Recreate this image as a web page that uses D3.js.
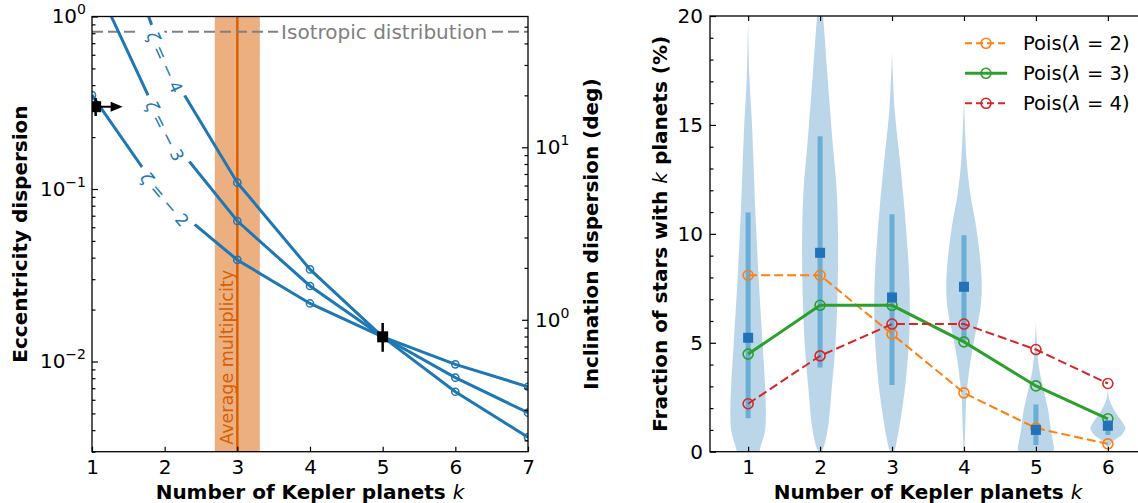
<!DOCTYPE html>
<html><head><meta charset="utf-8">
<script src="https://cdn.jsdelivr.net/npm/d3@7"></script>
<style>
html,body{margin:0;padding:0;background:#fff;}
svg{display:block;font-family:"DejaVu Sans",sans-serif;}
</style></head>
<body><svg id="c" width="1138" height="503"></svg>
<script>
// ---------------- Left panel data ----------------
const kLeft = [1, 2, 3, 4, 5, 6, 7];
const eccZetaM4 = [8.7, 0.543, 0.1088, 0.0342, 0.0139, 0.00668, 0.00364];
const eccZetaM3 = [1.74, 0.217, 0.0652, 0.0274, 0.0139, 0.00806, 0.00505];
const eccZetaM2 = [0.35, 0.0869, 0.0388, 0.0217, 0.0139, 0.00963, 0.00714];
const zetaLabels = ["4", "3", "2"];
const zetaLabelAngles = [66, 63, 50];
const isotropicEcc = 0.816;
const avgMult = 3.0, avgMultLo = 2.69, avgMultHi = 3.31;
const obsK = [1.05, 5];
const obsEcc = [0.30, 0.0139];
const obsEccLo = [0.265, 0.0114];
const obsEccHi = [0.337, 0.0167];
const eccTickExps = [-2, -1, 0];
const incTickExps = [0, 1];

// ---------------- Right panel data ----------------
const kRight = [1, 2, 3, 4, 5, 6];
const pois2 = [8.1, 8.1, 5.4, 2.7, 1.08, 0.36];
const pois3 = [4.48, 6.72, 6.72, 5.04, 3.02, 1.51];
const pois4 = [2.2, 4.4, 5.86, 5.86, 4.69, 3.13];
const medians = [5.23, 9.13, 7.08, 7.57, 1.0, 1.19];
const barLo = [1.53, 3.87, 3.06, 5.1, 0.31, 0.77];
const barHi = [10.98, 14.48, 10.9, 9.94, 2.17, 1.45];
const violin1 = [[19.8,0],[17.2,0.018],[15.1,0.053],[13,0.078],[11.1,0.1],[8,0.146],[5,0.2],[3,0.236],[1.9,0.247],[1,0.236],[0.23,0.174],[0,0.155],[-0.3,0.12]];
const violin2 = [[21.5,0],[20,0.042],[17.2,0.104],[14.2,0.174],[11.9,0.232],[9.6,0.25],[7.3,0.243],[5,0.215],[2.7,0.157],[1.15,0.111],[0.08,0.035],[-0.05,0]];
const violin3 = [[18.35,0],[15.7,0.037],[13.4,0.108],[11.1,0.174],[8,0.239],[5.7,0.243],[3.44,0.197],[1.9,0.139],[0.54,0.069],[0.08,0.035],[-0.05,0]];
const violin4 = [[16.2,0],[13.4,0.037],[11.9,0.086],[10.3,0.17],[8.8,0.226],[7.57,0.247],[6.5,0.226],[5.27,0.15],[4.2,0.093],[2.68,0.037],[1.15,0.018],[0,0.007]];
const violin5 = [[5.9,0],[3.9,0.042],[2.83,0.108],[1.9,0.17],[1,0.208],[0.4,0.24],[0.1,0.25],[-0.1,0.2],[-0.3,0]];
const violin6 = [[2.9,0],[2.37,0.023],[1.76,0.115],[1.3,0.213],[1.07,0.243],[0.77,0.19],[0.54,0.093],[0.31,0.032],[0.2,0]];
const violins = [violin1, violin2, violin3, violin4, violin5, violin6];
const fracTicks = [0, 5, 10, 15, 20];
const legendLabels = ["2", "3", "4"];

// ---------------- setup ----------------
const svg = d3.select("#c");
const BLUE = "#1f77b4", ORANGE = "#ff7f0e", GREEN = "#2ca02c", RED = "#d62728", AVG = "#d95f02";
const FS = 20;

const L = {x0: 92, x1: 528, y0: 16.5, y1: 451.7};
const R = {x0: 710, x1: 1146, y0: 16, y1: 451.7};

const xL = d3.scaleLinear().domain([1, 7]).range([L.x0, L.x1]);
const yL = d3.scaleLog().domain([0.003, 1]).range([L.y1, L.y0]);
const yInc = d3.scaleLog().domain([0.003 * 180 / Math.PI, 180 / Math.PI]).range([L.y1, L.y0]);
const xR = d3.scaleLinear().domain([0.47, 6.53]).range([R.x0, R.x1]);
const yR = d3.scaleLinear().domain([0, 20]).range([R.y1, R.y0]);

const defs = svg.append("defs");
defs.append("clipPath").attr("id", "clipL").append("rect")
  .attr("x", L.x0).attr("y", L.y0).attr("width", L.x1 - L.x0).attr("height", L.y1 - L.y0);
defs.append("clipPath").attr("id", "clipR").append("rect")
  .attr("x", R.x0).attr("y", R.y0).attr("width", R.x1 - R.x0).attr("height", R.y1 - R.y0);

function powLabel(t, e) {
  t.text(null);
  t.append("tspan").text("10");
  t.append("tspan").attr("dy", -9).attr("font-size", 14).text(e < 0 ? "\u2212" + (-e) : String(e));
}
function minorLogTicks(lo, hi) {
  const out = [];
  for (let e = Math.floor(Math.log10(lo)); e <= Math.ceil(Math.log10(hi)); e++) {
    for (let m = 2; m <= 9; m++) { const v = m * Math.pow(10, e); if (v >= lo && v <= hi) out.push(v); }
  }
  return out;
}
function styleAxis(g) {
  g.select(".domain").remove();
  g.selectAll(".tick line").attr("stroke", "#000").attr("stroke-width", 1.2);
  g.selectAll(".tick text").attr("font-size", FS).attr("fill", "#000").attr("font-family", "DejaVu Sans");
}

// ================= LEFT PANEL =================
const gL = svg.append("g");
const plotL = gL.append("g").attr("clip-path", "url(#clipL)");

// average multiplicity band
plotL.append("rect").attr("x", xL(avgMultLo)).attr("width", xL(avgMultHi) - xL(avgMultLo))
  .attr("y", L.y0).attr("height", L.y1 - L.y0).attr("fill", AVG).attr("fill-opacity", 0.5);
plotL.append("line").attr("x1", xL(avgMult)).attr("x2", xL(avgMult)).attr("y1", L.y0).attr("y2", L.y1)
  .attr("stroke", AVG).attr("stroke-width", 2.5);
plotL.append("text").attr("transform", `translate(${xL(avgMult) - 4},${L.y1 - 7}) rotate(-90)`)
  .attr("fill", AVG).attr("font-size", 17.5).text("Average multiplicity");

// isotropic
plotL.append("line").attr("x1", L.x0).attr("x2", L.x1).attr("y1", yL(isotropicEcc)).attr("y2", yL(isotropicEcc))
  .attr("stroke", "#808080").attr("stroke-width", 2).attr("stroke-dasharray", "11,5");
const isoG = plotL.append("g");
const isoT = isoG.append("text").attr("x", xL(5.02)).attr("y", yL(isotropicEcc)).attr("dy", "0.35em")
  .attr("text-anchor", "middle").attr("font-size", FS).attr("fill", "#808080").text("Isotropic distribution");
const ib = isoT.node().getBBox();
isoG.insert("rect", "text").attr("x", ib.x - 3).attr("y", ib.y).attr("width", ib.width + 6).attr("height", ib.height).attr("fill", "#fff");

// zeta curves
const series = [eccZetaM4, eccZetaM3, eccZetaM2];
const lineL = d3.line().x((d, i) => xL(kLeft[i])).y(d => yL(d));
series.forEach(s => {
  plotL.append("path").attr("d", lineL(s)).attr("fill", "none").attr("stroke", BLUE).attr("stroke-width", 3);
  plotL.selectAll(null).data(s).enter().append("circle")
    .attr("cx", (d, i) => xL(kLeft[i])).attr("cy", d => yL(d)).attr("r", 3.6)
    .attr("fill", "none").attr("stroke", BLUE).attr("stroke-width", 1.5);
});
// inline labels at k = 2
series.forEach((s, j) => {
  const g = plotL.append("g").attr("transform", `translate(${xL(kLeft[1])},${yL(s[1])}) rotate(${zetaLabelAngles[j]})`);
  const t = g.append("text").attr("text-anchor", "middle").attr("dy", "0.35em").attr("font-size", 17).attr("fill", BLUE);
  t.append("tspan").attr("font-style", "italic").text("\u03B6");
  t.append("tspan").text(" = \u2212 " + zetaLabels[j]);
  const b = t.node().getBBox();
  g.insert("rect", "text").attr("x", b.x - 6).attr("y", b.y - 2).attr("width", b.width + 12).attr("height", b.height + 4).attr("fill", "#fff");
});

// observed points
obsK.forEach((k, i) => {
  plotL.append("line").attr("x1", xL(k)).attr("x2", xL(k)).attr("y1", yL(obsEccLo[i])).attr("y2", yL(obsEccHi[i]))
    .attr("stroke", "#000").attr("stroke-width", 2.5);
  plotL.append("rect").attr("x", xL(k) - 5.5).attr("y", yL(obsEcc[i]) - 5.5).attr("width", 11).attr("height", 11).attr("fill", "#000");
});
// lower-limit arrow at k=1
{
  const y = yL(obsEcc[0]), x = xL(obsK[0]);
  plotL.append("line").attr("x1", x).attr("x2", x + 17).attr("y1", y).attr("y2", y).attr("stroke", "#000").attr("stroke-width", 2);
  plotL.append("path").attr("d", `M${x + 27},${y} L${x + 15},${y - 5} L${x + 15},${y + 5} Z`).attr("fill", "#000");
}

// axes left panel
const axB = gL.append("g").attr("transform", `translate(0,${L.y1})`)
  .call(d3.axisBottom(xL).tickValues(kLeft).tickSize(-5).tickPadding(8).tickFormat(d3.format("d")));
styleAxis(axB);
const axLmaj = gL.append("g").attr("transform", `translate(${L.x0},0)`)
  .call(d3.axisLeft(yL).tickValues(eccTickExps.map(e => Math.pow(10, e))).tickSize(-6).tickPadding(6));
styleAxis(axLmaj);
axLmaj.selectAll(".tick text").each(function(d, i) { powLabel(d3.select(this), eccTickExps[i]); });
const axLmin = gL.append("g").attr("transform", `translate(${L.x0},0)`)
  .call(d3.axisLeft(yL).tickValues(minorLogTicks(0.003, 1)).tickSize(-3.5).tickFormat(""));
styleAxis(axLmin);
const axRmaj = gL.append("g").attr("transform", `translate(${L.x1},0)`)
  .call(d3.axisRight(yInc).tickValues(incTickExps.map(e => Math.pow(10, e))).tickSize(-6).tickPadding(7));
styleAxis(axRmaj);
axRmaj.selectAll(".tick text").each(function(d, i) { powLabel(d3.select(this), incTickExps[i]); });
const axRmin = gL.append("g").attr("transform", `translate(${L.x1},0)`)
  .call(d3.axisRight(yInc).tickValues(minorLogTicks(yInc.domain()[0], yInc.domain()[1])).tickSize(-3.5).tickFormat(""));
styleAxis(axRmin);
gL.append("rect").attr("x", L.x0).attr("y", L.y0).attr("width", L.x1 - L.x0).attr("height", L.y1 - L.y0)
  .attr("fill", "none").attr("stroke", "#000").attr("stroke-width", 1.3);

// titles
function xTitle(g, cx) {
  const t = g.append("text").attr("x", cx).attr("y", 499).attr("text-anchor", "middle").attr("font-size", FS).attr("font-weight", "bold");
  t.append("tspan").text("Number of Kepler planets ");
  t.append("tspan").attr("font-style", "italic").attr("font-weight", "normal").text("k");
}
xTitle(gL, (L.x0 + L.x1) / 2);
gL.append("text").attr("transform", `translate(27,${(L.y0 + L.y1) / 2}) rotate(-90)`).attr("text-anchor", "middle")
  .attr("font-size", FS).attr("font-weight", "bold").text("Eccentricity dispersion");
gL.append("text").attr("transform", `translate(598,${(L.y0 + L.y1) / 2}) rotate(-90)`).attr("text-anchor", "middle")
  .attr("font-size", FS).attr("font-weight", "bold").text("Inclination dispersion (deg)");

// ================= RIGHT PANEL =================
const gR = svg.append("g");
const plotR = gR.append("g").attr("clip-path", "url(#clipR)");
violins.forEach((v, i) => {
  const k = kRight[i];
  const area = d3.area().curve(d3.curveCatmullRom.alpha(0.5))
    .y(d => yR(d[0])).x0(d => xR(k - d[1])).x1(d => xR(k + d[1]));
  plotR.append("path").attr("d", area(v)).attr("fill", BLUE).attr("fill-opacity", 0.3).attr("stroke", "none");
});
kRight.forEach((k, i) => {
  plotR.append("line").attr("x1", xR(k)).attr("x2", xR(k)).attr("y1", yR(barLo[i])).attr("y2", yR(barHi[i]))
    .attr("stroke", "#6aaed6").attr("stroke-width", 5);
});
const poisSeries = [
  {v: pois2, c: ORANGE, dash: "9,4", w: 2},
  {v: pois3, c: GREEN, dash: null, w: 3},
  {v: pois4, c: RED, dash: "9,4", w: 2}
];
const lineR = d3.line().x((d, i) => xR(kRight[i])).y(d => yR(d));
poisSeries.forEach(p => {
  plotR.append("path").attr("d", lineR(p.v)).attr("fill", "none").attr("stroke", p.c).attr("stroke-width", p.w)
    .attr("stroke-dasharray", p.dash);
  plotR.selectAll(null).data(p.v).enter().append("circle")
    .attr("cx", (d, i) => xR(kRight[i])).attr("cy", d => yR(d)).attr("r", 5)
    .attr("fill", "none").attr("stroke", p.c).attr("stroke-width", 1.6);
});
kRight.forEach((k, i) => {
  plotR.append("rect").attr("x", xR(k) - 5).attr("y", yR(medians[i]) - 5).attr("width", 10).attr("height", 10).attr("fill", "#2272b8");
});

// legend
poisSeries.forEach((p, i) => {
  const y = 43.3 + i * 30;
  gR.append("line").attr("x1", 965).attr("x2", 1007).attr("y1", y).attr("y2", y).attr("stroke", p.c)
    .attr("stroke-width", p.w).attr("stroke-dasharray", p.dash ? "7,4" : null);
  gR.append("circle").attr("cx", 986).attr("cy", y).attr("r", 5).attr("fill", "none").attr("stroke", p.c).attr("stroke-width", 1.6);
  const t = gR.append("text").attr("x", 1023).attr("y", y).attr("dy", "0.35em").attr("font-size", 19.5).attr("fill", "#000");
  t.append("tspan").text("Pois(");
  t.append("tspan").attr("font-style", "italic").text("\u03BB");
  t.append("tspan").text(" = " + legendLabels[i] + ")");
});

// axes right panel
const axRB = gR.append("g").attr("transform", `translate(0,${R.y1})`)
  .call(d3.axisBottom(xR).tickValues(kRight).tickSize(-5).tickPadding(8).tickFormat(d3.format("d")));
styleAxis(axRB);
const axRT = gR.append("g").attr("transform", `translate(0,${R.y0})`)
  .call(d3.axisTop(xR).tickValues(kRight).tickSize(-5).tickFormat(""));
styleAxis(axRT);
const axRL = gR.append("g").attr("transform", `translate(${R.x0},0)`)
  .call(d3.axisLeft(yR).tickValues(fracTicks).tickSize(-6).tickPadding(7).tickFormat(d3.format("d")));
styleAxis(axRL);
const axRLm = gR.append("g").attr("transform", `translate(${R.x0},0)`)
  .call(d3.axisLeft(yR).tickValues(d3.range(0, 21).filter(v => v % 5 !== 0)).tickSize(-3.5).tickFormat(""));
styleAxis(axRLm);
gR.append("rect").attr("x", R.x0).attr("y", R.y0).attr("width", R.x1 - R.x0).attr("height", R.y1 - R.y0)
  .attr("fill", "none").attr("stroke", "#000").attr("stroke-width", 1.3);
xTitle(gR, (R.x0 + R.x1) / 2);
{
  const t = gR.append("text").attr("transform", `translate(667,${(R.y0 + R.y1) / 2}) rotate(-90)`).attr("text-anchor", "middle")
    .attr("font-size", FS).attr("font-weight", "bold");
  t.append("tspan").text("Fraction of stars with ");
  t.append("tspan").attr("font-style", "italic").attr("font-weight", "normal").text("k");
  t.append("tspan").text(" planets (%)");
}
</script></body></html>
